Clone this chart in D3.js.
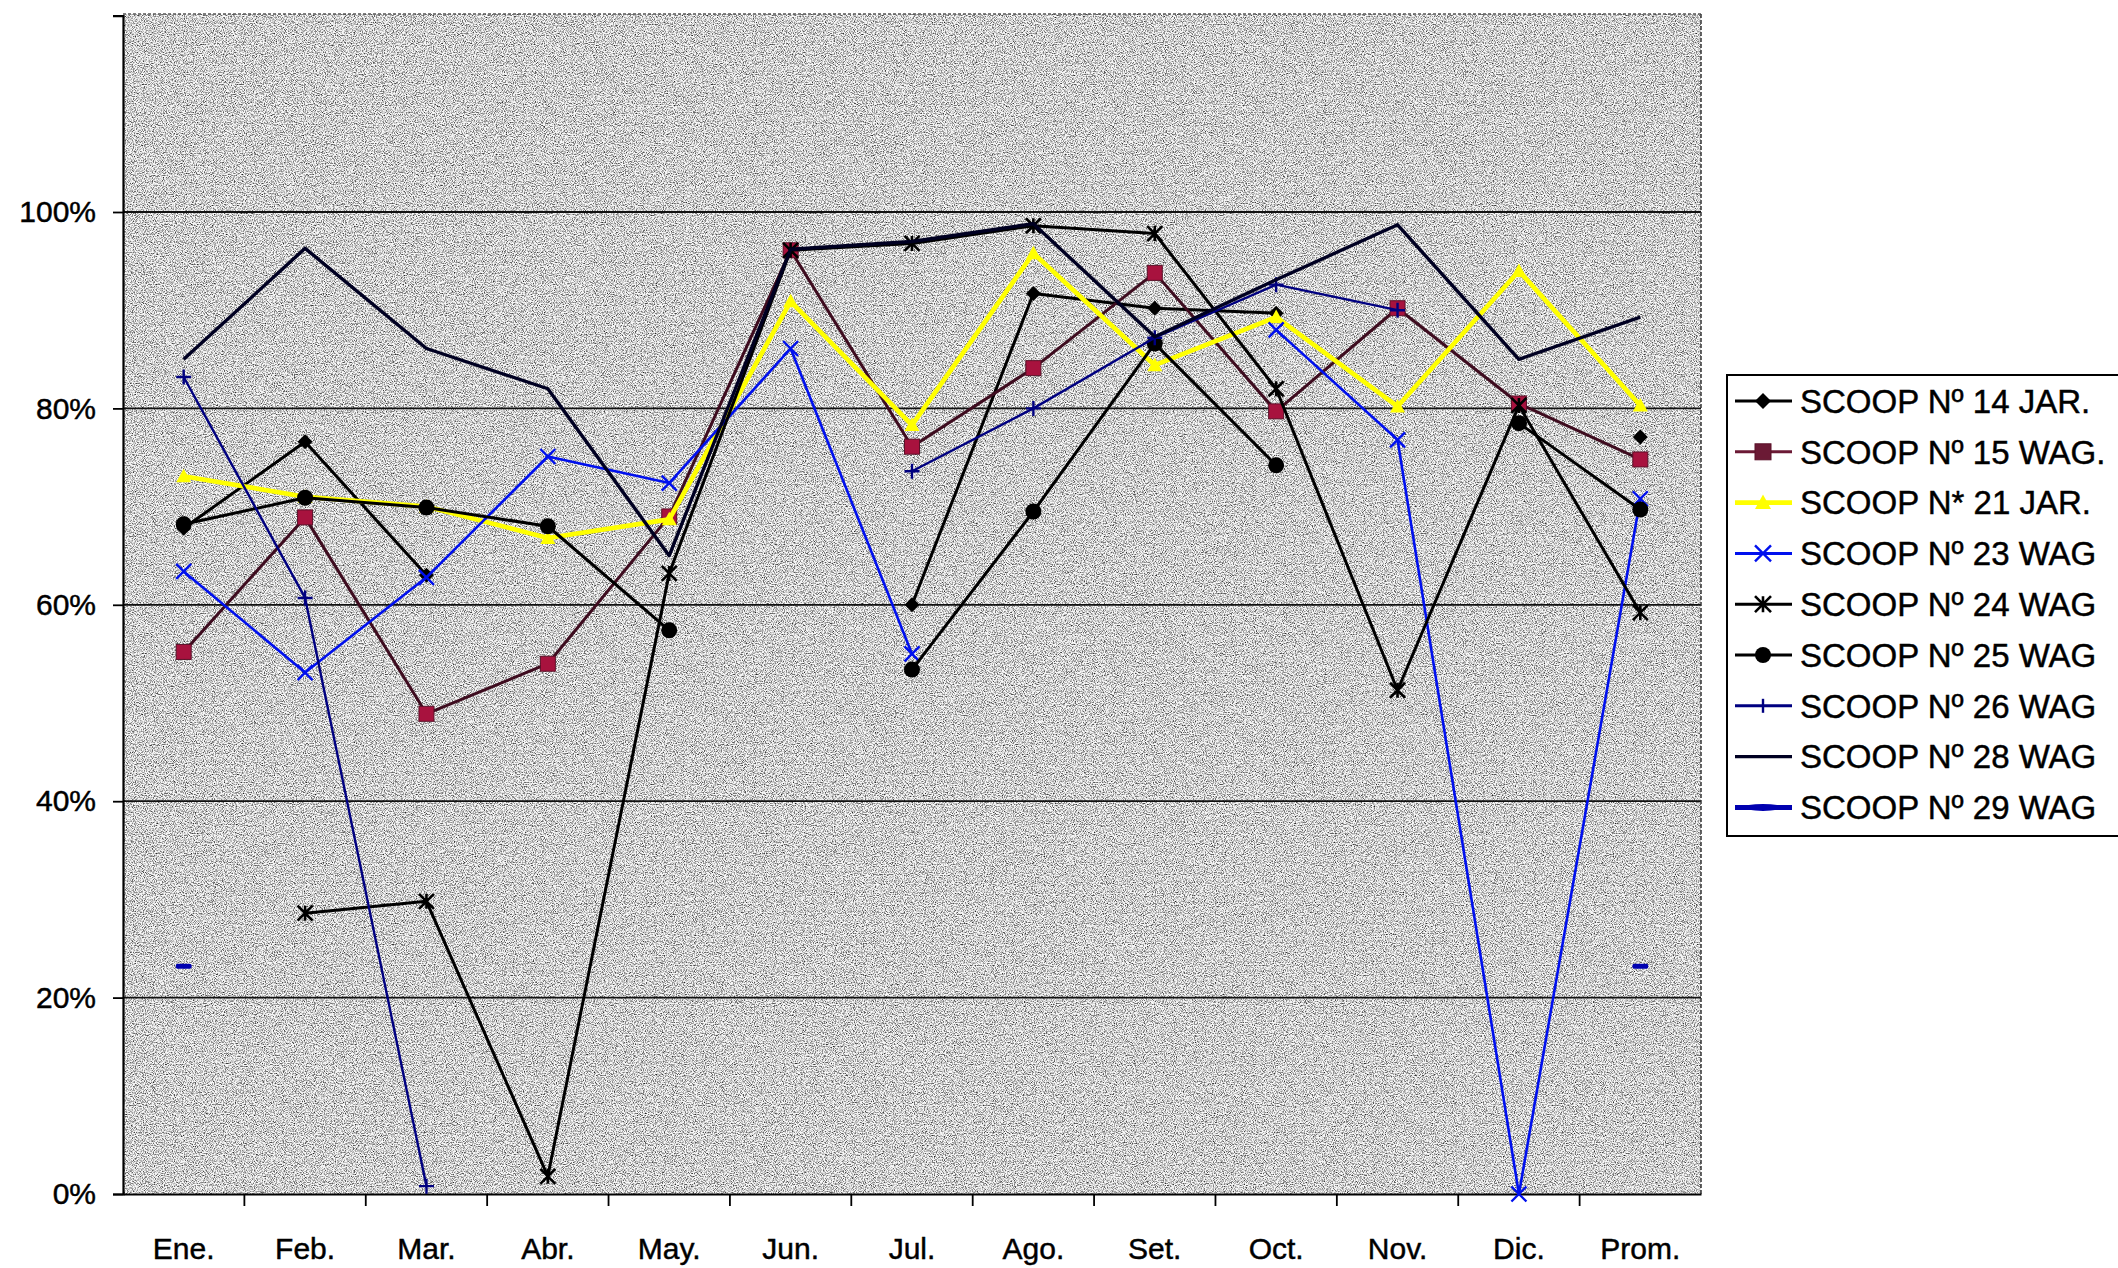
<!DOCTYPE html>
<html>
<head>
<meta charset="utf-8">
<script src="https://cdn.jsdelivr.net/npm/d3@7"></script>
<style>
  html, body { margin: 0; padding: 0; background: #ffffff; }
  svg { display: block; }
  text { font-family: "Liberation Sans", Arial, sans-serif; fill: #000; stroke: #000; stroke-width: 0.45px; }
</style>
</head>
<body>
<svg id="chart" width="2118" height="1268"></svg>
<script>
// Months plus yearly average
const months = ["Ene.", "Feb.", "Mar.", "Abr.", "May.", "Jun.", "Jul.", "Ago.", "Set.", "Oct.", "Nov.", "Dic.", "Prom."];

// Availability (%) per scoop; null = no reading that month
const scoop14 = [67.8, 76.6, 63.0, null, null, null, 60.0, 91.7, 90.2, 89.7, null, null, 77.1];
const scoop15 = [55.2, 68.9, 48.9, 54.0, 69.0, 96.1, 76.1, 84.1, 93.8, 79.7, 90.2, 80.5, 74.8];
const scoop21 = [73.1, 71.0, 70.0, 66.8, 68.7, 90.9, 78.3, 95.8, 84.4, 89.3, 80.2, 94.0, 80.3];
const scoop23 = [63.4, 53.1, 62.8, 75.1, 72.4, 86.1, 55.0, null, null, 88.0, 76.8, 0.0, 70.8];
const scoop24 = [null, 28.6, 29.8, 1.8, 63.2, 96.1, 96.8, 98.6, 97.8, 82.0, 51.3, 80.3, 59.2];
const scoop25 = [68.2, 70.9, 69.9, 68.0, 57.4, null, 53.4, 69.5, 86.6, 74.2, null, 78.5, 69.7];
const scoop26 = [83.2, 60.7, 0.8, null, null, null, 73.6, 80.0, 87.2, 92.6, 90.0, null, null];
const scoop28 = [85.0, 96.3, 86.1, 82.0, 65.0, 96.2, 97.0, 98.8, 87.3, 93.1, 98.7, 85.0, 89.3];
const scoop29 = [23.2, null, null, null, null, null, null, null, null, null, null, null, 23.2];

const seriesNames = [
  "SCOOP Nº 14 JAR.", "SCOOP Nº 15 WAG.", "SCOOP N* 21 JAR.", "SCOOP Nº 23 WAG",
  "SCOOP Nº 24 WAG", "SCOOP Nº 25 WAG", "SCOOP Nº 26 WAG", "SCOOP Nº 28 WAG", "SCOOP Nº 29 WAG"
];
const seriesValues = [scoop14, scoop15, scoop21, scoop23, scoop24, scoop25, scoop26, scoop28, scoop29];
const yTicks = [0, 20, 40, 60, 80, 100];

// Visual style of each series
const styles = [
  { line: "#000000", width: 3,   marker: "diamond",  fill: "#000000", stroke: "#000000" },
  { line: "#3e0c1f", width: 3,   marker: "square",   fill: "#a8123e", stroke: "#5a1028", legendFill: "#6b1a35", legendLine: "#6b1a35" },
  { line: "#ffff00", width: 4.6, marker: "triangle", fill: "#ffff00", stroke: "#f4f400" },
  { line: "#0010ee", width: 2.6, marker: "x",        fill: "none",    stroke: "#0010ee" },
  { line: "#000000", width: 3,   marker: "asterisk", fill: "none",    stroke: "#000000" },
  { line: "#000000", width: 3,   marker: "circle",   fill: "#000000", stroke: "#000000" },
  { line: "#000080", width: 2.4, marker: "plus",     fill: "none",    stroke: "#000080" },
  { line: "#000022", width: 3.4, marker: "none",     fill: "none",    stroke: "#000022" },
  { line: "#0000b0", width: 5,   marker: "dash",     fill: "#0000b0", stroke: "#0000b0" }
];

const W = 2118, H = 1268;
const plot = { left: 123, right: 1701, top: 14, bottom: 1194 };

const svg = d3.select("#chart");

const x = d3.scaleBand().domain(months).range([plot.left, plot.right]).padding(0);
const y = d3.scaleLinear().domain([0, 120]).range([plot.bottom, plot.bottom - 6 * 196.4]);
const cx = m => x(m) + x.bandwidth() / 2;

// Grainy gray plot background
const defs = svg.append("defs");
const grain = defs.append("filter").attr("id", "grain")
  .attr("x", 0).attr("y", 0).attr("width", "100%").attr("height", "100%")
  .attr("color-interpolation-filters", "sRGB");
grain.append("feTurbulence").attr("type", "fractalNoise").attr("baseFrequency", 0.9)
  .attr("numOctaves", 2).attr("seed", 7).attr("result", "noise");
grain.append("feColorMatrix").attr("in", "noise").attr("type", "matrix")
  .attr("values", "2.2 0 0 0 -0.28  2.2 0 0 0 -0.28  2.2 0 0 0 -0.28  0 0 0 0 1");

svg.append("rect")
  .attr("x", plot.left).attr("y", plot.top)
  .attr("width", plot.right - plot.left).attr("height", plot.bottom - plot.top)
  .attr("fill", "#cdcdcd");
svg.append("rect")
  .attr("x", plot.left).attr("y", plot.top)
  .attr("width", plot.right - plot.left).attr("height", plot.bottom - plot.top)
  .attr("filter", "url(#grain)")
  .attr("opacity", 0.85);

// Horizontal gridlines
svg.append("g").selectAll("line").data(yTicks.filter(t => t > 0)).join("line")
  .attr("x1", plot.left).attr("x2", plot.right)
  .attr("y1", d => y(d)).attr("y2", d => y(d))
  .attr("stroke", "#111").attr("stroke-width", 1.8);

// Plot frame
svg.append("line").attr("x1", plot.left).attr("x2", plot.right).attr("y1", plot.top).attr("y2", plot.top)
  .attr("stroke", "#555").attr("stroke-width", 1.5).attr("stroke-dasharray", "3,2");
svg.append("line").attr("x1", plot.right).attr("x2", plot.right).attr("y1", plot.top).attr("y2", plot.bottom)
  .attr("stroke", "#333").attr("stroke-width", 1.5).attr("stroke-dasharray", "4,2");

// Y axis
const yAxis = d3.axisLeft(y).tickValues(yTicks).tickFormat(d => d + "%").tickSize(10).tickPadding(4);
const gy = svg.append("g").attr("transform", `translate(${plot.left},0)`).call(yAxis);
gy.select(".domain").attr("stroke", "#000").attr("stroke-width", 2.2);
gy.selectAll(".tick line").attr("stroke", "#000").attr("stroke-width", 1.8);
gy.selectAll(".tick text").attr("font-size", 30).attr("font-family", "'Liberation Sans', Arial, sans-serif")
  .attr("fill", "#000").attr("x", -27);

// X axis with ticks between categories
const xAxis = d3.axisBottom(x).tickSize(0).tickPadding(0);
const gx = svg.append("g").attr("transform", `translate(0,${plot.bottom})`).call(xAxis);
gx.select(".domain").attr("stroke", "#000").attr("stroke-width", 2.2);
gx.selectAll(".tick text").attr("font-size", 30).attr("font-family", "'Liberation Sans', Arial, sans-serif")
  .attr("fill", "#000").attr("y", 0).attr("dy", "0").attr("transform", "translate(0,65)");
gx.selectAll(".boundary").data(months.slice(1)).join("line").attr("class", "boundary")
  .attr("x1", d => x(d)).attr("x2", d => x(d)).attr("y1", 0).attr("y2", 12)
  .attr("stroke", "#000").attr("stroke-width", 1.8);

// Marker drawing
function drawMarker(g, type, size, st) {
  const h = size / 2;
  if (type === "diamond") {
    g.append("path").attr("d", `M0,${-h}L${h},0L0,${h}L${-h},0Z`).attr("fill", st.fill);
  } else if (type === "square") {
    g.append("rect").attr("x", -h).attr("y", -h).attr("width", size).attr("height", size)
      .attr("fill", st.fill).attr("stroke", st.stroke).attr("stroke-width", 1);
  } else if (type === "triangle") {
    g.append("path").attr("d", `M0,${-h}L${h},${h * 0.8}L${-h},${h * 0.8}Z`).attr("fill", st.fill);
  } else if (type === "circle") {
    g.append("circle").attr("r", h).attr("fill", st.fill);
  } else if (type === "x") {
    g.append("path").attr("d", `M${-h},${-h}L${h},${h}M${-h},${h}L${h},${-h}`)
      .attr("stroke", st.stroke).attr("stroke-width", 2.4).attr("fill", "none");
  } else if (type === "asterisk") {
    g.append("path").attr("d", `M${-h},${-h}L${h},${h}M${-h},${h}L${h},${-h}M0,${-h}L0,${h}`)
      .attr("stroke", st.stroke).attr("stroke-width", 2.6).attr("fill", "none");
  } else if (type === "plus") {
    g.append("path").attr("d", `M${-h},0L${h},0M0,${-h}L0,${h}`)
      .attr("stroke", st.stroke).attr("stroke-width", 2.4).attr("fill", "none");
  } else if (type === "dash") {
    g.append("rect").attr("x", -h).attr("y", -2.5).attr("width", size).attr("height", 5)
      .attr("rx", 2).attr("fill", st.fill);
  }
}

// Series lines and markers
const line = d3.line()
  .defined(d => d.v !== null)
  .x(d => cx(d.m))
  .y(d => y(d.v));

const seriesLayer = svg.append("g");
seriesValues.forEach((vals, i) => {
  const st = styles[i];
  const pts = months.map((m, j) => ({ m, v: vals[j] }));
  const g = seriesLayer.append("g");
  if (st.marker !== "dash") {
    g.append("path").datum(pts).attr("d", line)
      .attr("fill", "none").attr("stroke", st.line).attr("stroke-width", st.width)
      .attr("stroke-linejoin", "round");
  }
  pts.filter(p => p.v !== null).forEach(p => {
    const mg = g.append("g").attr("transform", `translate(${cx(p.m)},${y(p.v)})`);
    const size = st.marker === "dash" ? 16 : (st.marker === "circle" ? 16 : 15);
    drawMarker(mg, st.marker, size, st);
  });
});

// Legend
const legend = { left: 1727, top: 375, bottom: 836, rowTop: 401, rowStep: 50.8 };
svg.append("rect")
  .attr("x", legend.left).attr("y", legend.top)
  .attr("width", W - legend.left + 10).attr("height", legend.bottom - legend.top)
  .attr("fill", "#fff").attr("stroke", "#000").attr("stroke-width", 2);

const lg = svg.append("g");
seriesNames.forEach((name, i) => {
  const st = styles[i];
  const yy = legend.rowTop + i * legend.rowStep;
  const row = lg.append("g").attr("transform", `translate(0,${yy})`);
  row.append("line").attr("x1", 1735).attr("x2", 1792).attr("y1", 0).attr("y2", 0)
    .attr("stroke", st.legendLine || st.line).attr("stroke-width", Math.max(st.width, 3));
  const mg = row.append("g").attr("transform", "translate(1763,0)");
  const lst = Object.assign({}, st, { fill: st.legendFill || st.fill });
  if (st.marker === "dash") {
    mg.append("ellipse").attr("rx", 20).attr("ry", 3.5).attr("fill", st.fill);
  } else if (st.marker === "plus") {
    mg.append("line").attr("x1", 0).attr("x2", 0).attr("y1", -7).attr("y2", 7)
      .attr("stroke", st.stroke).attr("stroke-width", 2.4);
  } else {
    drawMarker(mg, st.marker, 16, lst);
  }
  row.append("text").attr("x", 1800).attr("y", 0).attr("dy", "0.36em")
    .attr("font-size", 33).text(name);
});
</script>
</body>
</html>
